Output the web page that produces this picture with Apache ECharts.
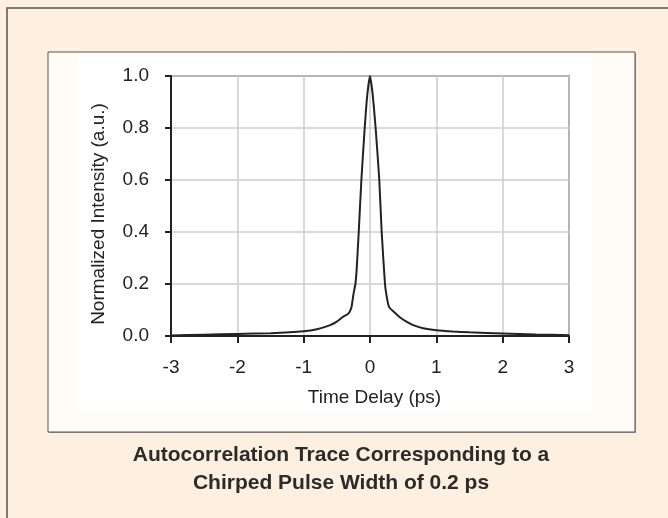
<!DOCTYPE html>
<html>
<head>
<meta charset="utf-8">
<script src="https://cdn.jsdelivr.net/npm/echarts@6/dist/echarts.min.js"></script>
<style>
html,body{margin:0;padding:0;background:#fdf0e0;}
#chart{width:668px;height:518px;}
</style>
</head>
<body>
<div id="chart"></div>
<script>
// Time delay (ps) and normalized intensity (a.u.)
const timeDelay = [-3.0,-2.5,-2.0,-1.5,-1.0,-0.8,-0.6,-0.5,-0.4,-0.33,-0.28,-0.25,-0.22,-0.2,-0.17,-0.13,-0.08,-0.04,0,0.04,0.085,0.14,0.176,0.226,0.26,0.29,0.35,0.45,0.55,0.65,0.8,1.0,1.25,1.5,2.0,2.5,3.0];
const intensity = [0.002,0.005,0.008,0.011,0.018,0.026,0.042,0.055,0.075,0.085,0.11,0.16,0.2,0.26,0.4,0.6,0.8,0.93,1.0,0.93,0.8,0.6,0.4,0.2,0.14,0.11,0.095,0.072,0.055,0.042,0.03,0.022,0.017,0.014,0.01,0.006,0.003];
const xTicks = [-3,-2,-1,0,1,2,3];
const yTicks = [0,0.2,0.4,0.6,0.8,1.0];
const titleLines = ['Autocorrelation Trace Corresponding to a','Chirped Pulse Width of 0.2 ps'];
const xName = 'Time Delay (ps)';
const yName = 'Normalized Intensity (a.u.)';

const chart = echarts.init(document.getElementById('chart'), null, {renderer:'canvas'});
const font = '"Liberation Sans", Arial, sans-serif';
chart.setOption({
  backgroundColor: '#fdf0e0',
  animation: false,
  graphic: [
    {type:'rect', z:-10, shape:{x:7,y:8,width:700,height:600}, style:{fill:'#fdf0e0', stroke:'#555', lineWidth:1.5}},
    {type:'rect', z:-9, shape:{x:49,y:53,width:587,height:380}, style:{fill:'#999'}},
    {type:'rect', z:-8, shape:{x:48,y:52,width:587,height:380}, style:{fill:'#fffcf7', stroke:'#555', lineWidth:1}},
    {type:'rect', z:-7, shape:{x:78,y:53,width:514,height:360}, style:{fill:'#ffffff'}},
    {type:'text', z:10, style:{
      x: 341, y: 441,
      text: titleLines.join('\n'),
      textAlign: 'center', textVerticalAlign: 'top',
      font: 'bold 21px "Liberation Sans", Arial, sans-serif',
      lineHeight: 28,
      fill: '#2b2b2b'
    }}
  ],
  grid: {left:171, right:99, top:76, bottom:182, show:true, borderColor:'#444', borderWidth:1.5, backgroundColor:'transparent'},
  xAxis: {
    type:'value', min:xTicks[0], max:xTicks[xTicks.length-1], interval:1,
    name: xName, nameLocation:'middle', nameGap:52,
    nameTextStyle:{fontFamily:font, fontSize:19, color:'#222', padding:[0,0,0,9]},
    axisLine:{show:true, onZero:false, lineStyle:{color:'#222', width:2}},
    axisTick:{show:true, length:7, lineStyle:{color:'#222', width:2}},
    axisLabel:{fontFamily:font, fontSize:19, color:'#222', margin:22},
    splitLine:{show:true, lineStyle:{color:'#cccccc', width:1.5}}
  },
  yAxis: {
    type:'value', min:yTicks[0], max:yTicks[yTicks.length-1], interval:0.2,
    name: yName, nameLocation:'middle', nameGap:63,
    nameTextStyle:{fontFamily:font, fontSize:19, color:'#222', padding:[0,16,0,0]},
    axisLine:{show:true, onZero:false, lineStyle:{color:'#222', width:2}},
    axisTick:{show:true, length:6, lineStyle:{color:'#222', width:2}},
    axisLabel:{fontFamily:font, fontSize:19, color:'#222', margin:22, formatter:v=>v.toFixed(1)},
    splitLine:{show:true, lineStyle:{color:'#cccccc', width:1.5}}
  },
  series: [{
    type:'line',
    data: timeDelay.map((t,i)=>[t,intensity[i]]),
    showSymbol:false,
    smooth:0.15,
    lineStyle:{color:'#222', width:2},
    clip:true
  }]
});
</script>
</body>
</html>
